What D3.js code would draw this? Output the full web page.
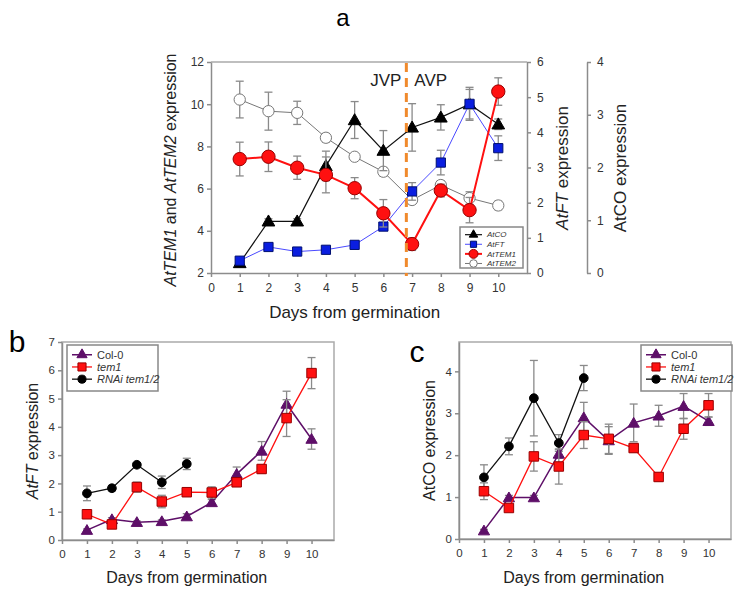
<!DOCTYPE html>
<html>
<head>
<meta charset="utf-8">
<script src="https://cdn.jsdelivr.net/npm/d3@7"></script>
<style>
body { margin: 0; background: #fff; }
svg text { font-family: "Liberation Sans", Arial, sans-serif; }
</style>
</head>
<body>
<div id="chart"></div>
<script>
// days on the x axis
var days = [1, 2, 3, 4, 5, 6, 7, 8, 9, 10];
var daysRnai = [1, 2, 3, 4, 5];
var xTicks = [0, 1, 2, 3, 4, 5, 6, 7, 8, 9, 10];

// panel a
var aTEM2 = [10.22, 9.67, 9.59, 8.41, 7.51, 6.80, 5.46, 6.17, 5.55, 5.2];
var aTEM2Err = [0.87, 0.9, 0.55, 0.2, 0.1, 0.2, 0.15, 0.2, 0.3, 0.2];
var aTEM1 = [7.40, 7.51, 6.99, 6.65, 6.02, 4.83, 3.37, 5.91, 4.98, 10.6];
var aTEM1Err = [0.8, 0.7, 0.55, 0.85, 0.5, 0.65, 0.3, 0.3, 0.6, 0.65];
var aFT = [0.35, 0.74, 0.61, 0.66, 0.80, 1.32, 2.32, 3.14, 4.81, 3.55];
var aFTErr = [0.05, 0.05, 0.04, 0.04, 0.1, 0.08, 0.25, 0.35, 0.47, 0.35];
var aCO = [0.19, 0.98, 0.98, 2.03, 2.9, 2.32, 2.76, 2.95, 3.2, 2.82];
var aCOErr = [0.03, 0.05, 0.05, 0.28, 0.35, 0.38, 0.45, 0.24, 0.28, 0.1];
var phaseSplit = 6.8;

// panel b (AtFT)
var bCol = [0.35, 0.73, 0.63, 0.66, 0.83, 1.33, 2.33, 3.15, 4.81, 3.57];
var bColErr = [0.04, 0.06, 0.04, 0.05, 0.1, 0.1, 0.25, 0.33, 0.45, 0.36];
var bTem1 = [0.91, 0.55, 1.87, 1.36, 1.69, 1.68, 2.04, 2.51, 4.31, 5.9];
var bTem1Err = [0.12, 0.1, 0.18, 0.22, 0.15, 0.2, 0.1, 0.15, 0.65, 0.55];
var bRnai = [1.65, 1.83, 2.66, 2.04, 2.69];
var bRnaiErr = [0.26, 0.1, 0.07, 0.22, 0.2];

// panel c (AtCO)
var cCol = [0.2, 0.99, 0.99, 2.03, 2.9, 2.35, 2.77, 2.94, 3.17, 2.81];
var cColErr = [0.03, 0.05, 0.05, 0.1, 0.36, 0.33, 0.45, 0.25, 0.3, 0.1];
var cTem1 = [1.14, 0.74, 1.97, 1.73, 2.48, 2.39, 2.17, 1.48, 2.63, 3.19];
var cTem1Err = [0.2, 0.05, 0.35, 0.42, 0.32, 0.35, 0.1, 0.1, 0.25, 0.28];
var cRnai = [1.47, 2.21, 3.36, 2.29, 3.84];
var cRnaiErr = [0.3, 0.2, 0.9, 0.2, 0.3];

var w = 738, h = 590;
var axisCol = "#8c8c8c", textCol = "#333";
var purple = "#5e0f68", red = "#ff1010";

var svg = d3.select("#chart").append("svg").attr("width", w).attr("height", h);

function styleAxis(g, size) {
  g.selectAll("path, line").attr("stroke", axisCol).attr("stroke-width", 1.5);
  g.selectAll("text").attr("fill", textCol).style("font-size", size + "px");
}

// draws error bars, line and markers of one series
function drawSeries(g, xs, ys, xv, yv, ev, opt) {
  var pts = xv.map(function(d, i) { return {x: d, y: yv[i], e: ev[i]}; });
  var cap = opt.cap || 4;
  var eb = g.append("g");
  pts.forEach(function(p) {
    var x = xs(p.x), y0 = ys(p.y - p.e), y1 = ys(p.y + p.e);
    eb.append("line").attr("x1", x).attr("x2", x).attr("y1", y0).attr("y2", y1);
    eb.append("line").attr("x1", x - cap).attr("x2", x + cap).attr("y1", y0).attr("y2", y0);
    eb.append("line").attr("x1", x - cap).attr("x2", x + cap).attr("y1", y1).attr("y2", y1);
  });
  eb.selectAll("line").attr("stroke", "#8a8a8a").attr("stroke-width", 1.3);
  g.append("path").datum(pts)
    .attr("fill", "none").attr("stroke", opt.line).attr("stroke-width", opt.lw)
    .attr("d", d3.line().x(function(d) { return xs(d.x); }).y(function(d) { return ys(d.y); }));
  g.selectAll(null).data(pts).enter().append("path")
    .attr("transform", function(d) { return "translate(" + xs(d.x) + "," + (ys(d.y) + (opt.shape === d3.symbolTriangle ? 1 : 0)) + ")"; })
    .attr("d", d3.symbol().type(opt.shape).size(opt.size))
    .attr("fill", opt.fill).attr("stroke", opt.stroke).attr("stroke-width", opt.sw || 1);
}

function legend(g, x, y, bw, bh, rows, dy, fs, lineLen, mScale) {
  g.append("rect").attr("x", x).attr("y", y).attr("width", bw).attr("height", bh)
    .attr("fill", "#fff").attr("stroke", "#888").attr("stroke-width", 1.5);
  rows.forEach(function(r, i) {
    var yy = y + dy * (i + 0.8);
    g.append("line").attr("x1", x + 5).attr("x2", x + 5 + lineLen).attr("y1", yy).attr("y2", yy)
      .attr("stroke", r.line).attr("stroke-width", r.lw);
    g.append("path").attr("transform", "translate(" + (x + 5 + lineLen / 2) + "," + yy + ")")
      .attr("d", d3.symbol().type(r.shape).size(r.size * mScale))
      .attr("fill", r.fill).attr("stroke", r.stroke);
    g.append("text").attr("x", x + 10 + lineLen).attr("y", yy + fs * 0.35)
      .style("font-size", fs + "px").style("font-style", r.italic ? "italic" : "normal")
      .attr("fill", textCol).text(r.label);
  });
}

// ---------------- panel a ----------------
var ga = svg.append("g");
var xA = d3.scaleLinear().domain([0, 11]).range([211, 527]);
var yTEM = d3.scaleLinear().domain([2, 12]).range([273, 62]);
var yFT = d3.scaleLinear().domain([0, 6]).range([273, 62]);
var yCO = d3.scaleLinear().domain([0, 4]).range([273, 62]);

ga.append("line").attr("x1", 211).attr("x2", 527).attr("y1", 62).attr("y2", 62)
  .attr("stroke", "#aaa").attr("stroke-width", 1.5);
ga.append("g").attr("transform", "translate(0,273)")
  .call(d3.axisBottom(xA).tickValues(xTicks).tickSize(4).tickSizeOuter(0).tickPadding(6))
  .call(styleAxis, 12);
ga.append("g").attr("transform", "translate(211,0)")
  .call(d3.axisLeft(yTEM).ticks(5).tickSize(4).tickSizeOuter(0))
  .call(styleAxis, 12);
ga.append("g").attr("transform", "translate(527,0)")
  .call(d3.axisRight(yFT).ticks(6).tickSize(4).tickSizeOuter(0).tickPadding(6))
  .call(styleAxis, 12);
ga.append("g").attr("transform", "translate(587,0)")
  .call(d3.axisRight(yCO).ticks(4).tickSize(4).tickSizeOuter(0).tickPadding(6))
  .call(styleAxis, 12);

drawSeries(ga, xA, yTEM, days, aTEM2, aTEM2Err, {line: "#777", lw: 1, shape: d3.symbolCircle, size: 100, fill: "#fff", stroke: "#777", cap: 4});
drawSeries(ga, xA, yCO, days, aCO, aCOErr, {line: "#111", lw: 1.2, shape: d3.symbolTriangle, size: 70, fill: "#000", stroke: "#000", cap: 4});
drawSeries(ga, xA, yFT, days, aFT, aFTErr, {line: "#4a4aff", lw: 1, shape: d3.symbolSquare, size: 85, fill: "#0a1ee0", stroke: "#001070", cap: 4});
drawSeries(ga, xA, yTEM, days, aTEM1, aTEM1Err, {line: red, lw: 2, shape: d3.symbolCircle, size: 140, fill: red, stroke: "#900", cap: 4});

ga.append("line").attr("x1", xA(phaseSplit)).attr("x2", xA(phaseSplit)).attr("y1", 63).attr("y2", 276)
  .attr("stroke", "#f08a2c").attr("stroke-width", 3).attr("stroke-dasharray", "9,6");
ga.append("text").attr("x", xA(phaseSplit) - 5).attr("y", 86).attr("text-anchor", "end")
  .style("font-size", "17px").attr("fill", "#222").text("JVP");
ga.append("text").attr("x", xA(phaseSplit) + 8).attr("y", 86)
  .style("font-size", "17px").attr("fill", "#222").text("AVP");

legend(ga, 460, 227, 63, 41, [
  {label: "AtCO", line: "#111", lw: 1.2, shape: d3.symbolTriangle, size: 70, fill: "#000", stroke: "#000", italic: true},
  {label: "AtFT", line: "#4a4aff", lw: 1, shape: d3.symbolSquare, size: 85, fill: "#0a1ee0", stroke: "#001070", italic: true},
  {label: "AtTEM1", line: red, lw: 2, shape: d3.symbolCircle, size: 140, fill: red, stroke: "#900", italic: true},
  {label: "AtTEM2", line: "#777", lw: 1, shape: d3.symbolCircle, size: 100, fill: "#fff", stroke: "#777", italic: true}
], 9.6, 8, 17, 0.45);

ga.append("text").attr("x", xA(5)).attr("y", 318).attr("text-anchor", "middle")
  .style("font-size", "17px").attr("fill", "#222").text("Days from germination");
var tA = ga.append("text").attr("transform", "translate(176,170) rotate(-90)").attr("text-anchor", "middle")
  .style("font-size", "16px").attr("fill", "#222");
tA.append("tspan").style("font-style", "italic").text("AtTEM1");
tA.append("tspan").text(" and ");
tA.append("tspan").style("font-style", "italic").text("AtTEM2");
tA.append("tspan").text(" expression");
var tFT = ga.append("text").attr("transform", "translate(568,168) rotate(-90)").attr("text-anchor", "middle")
  .style("font-size", "17px").attr("fill", "#222");
tFT.append("tspan").style("font-style", "italic").text("AtFT");
tFT.append("tspan").text(" expression");
ga.append("text").attr("transform", "translate(626,168) rotate(-90)").attr("text-anchor", "middle")
  .style("font-size", "17px").attr("fill", "#222").text("AtCO expression");
ga.append("text").attr("x", 343).attr("y", 26).attr("text-anchor", "middle")
  .style("font-size", "24px").attr("fill", "#000").text("a");

// ---------------- panels b and c ----------------
function smallPanel(x0, x1, yTop, yBot, yMax, yTicks, col, tem1, rnai, errs, legX, titleX, yTitle, titleItalic, letter, letterPos) {
  var g = svg.append("g");
  var xs = d3.scaleLinear().domain([0, 10.9]).range([x0, x1]);
  var ys = d3.scaleLinear().domain([0, yMax]).range([yBot, yTop]);
  g.append("rect").attr("x", x0).attr("y", yTop).attr("width", x1 - x0).attr("height", yBot - yTop)
    .attr("fill", "none").attr("stroke", "#aaa").attr("stroke-width", 1.5);
  g.append("g").attr("transform", "translate(0," + yBot + ")")
    .call(d3.axisBottom(xs).tickValues(xTicks).tickFormat(d3.format("d")).tickSize(4).tickSizeOuter(0).tickPadding(6))
    .call(styleAxis, 11.5);
  g.append("g").attr("transform", "translate(" + x0 + ",0)")
    .call(d3.axisLeft(ys).tickValues(yTicks).tickFormat(d3.format("d")).tickSize(4).tickSizeOuter(0))
    .call(styleAxis, 11.5);
  drawSeries(g, xs, ys, daysRnai, rnai, errs[2], {line: "#111", lw: 1.3, shape: d3.symbolCircle, size: 60, fill: "#000", stroke: "#000", cap: 4});
  drawSeries(g, xs, ys, days, col, errs[0], {line: purple, lw: 1.5, shape: d3.symbolTriangle, size: 55, fill: purple, stroke: purple, cap: 4});
  drawSeries(g, xs, ys, days, tem1, errs[1], {line: red, lw: 1.3, shape: d3.symbolSquare, size: 90, fill: red, stroke: "#900", cap: 4});
  legend(g, legX, 345, 91, 46, [
    {label: "Col-0", line: purple, lw: 1.5, shape: d3.symbolTriangle, size: 75, fill: purple, stroke: purple},
    {label: "tem1", line: red, lw: 1.3, shape: d3.symbolSquare, size: 110, fill: red, stroke: "#900", italic: true},
    {label: "RNAi tem1/2", line: "#111", lw: 1.3, shape: d3.symbolCircle, size: 85, fill: "#000", stroke: "#000", italic: true}
  ], 12.2, 11, 20, 0.6);
  g.append("text").attr("x", xs(5)).attr("y", 583).attr("text-anchor", "middle")
    .style("font-size", "16px").attr("fill", "#222").text("Days from germination");
  var t = g.append("text").attr("transform", "translate(" + titleX + "," + ((yTop + yBot) / 2) + ") rotate(-90)")
    .attr("text-anchor", "middle").style("font-size", "16px").attr("fill", "#222");
  t.append("tspan").style("font-style", titleItalic ? "italic" : "normal").text(yTitle);
  t.append("tspan").text(" expression");
  g.append("text").attr("x", letterPos[0]).attr("y", letterPos[1]).attr("text-anchor", "middle")
    .style("font-size", "30px").attr("fill", "#000").text(letter);
}

smallPanel(62, 334, 342, 540, 7, [0, 1, 2, 3, 4, 5, 6, 7], bCol, bTem1, bRnai,
  [bColErr, bTem1Err, bRnaiErr], 67, 38, "AtFT", true, "b", [17, 352]);
smallPanel(459, 731, 342, 539, 4.7, [0, 1, 2, 3, 4], cCol, cTem1, cRnai,
  [cColErr, cTem1Err, cRnaiErr], 641, 435, "AtCO", false, "c", [417, 362]);
</script>
</body>
</html>
